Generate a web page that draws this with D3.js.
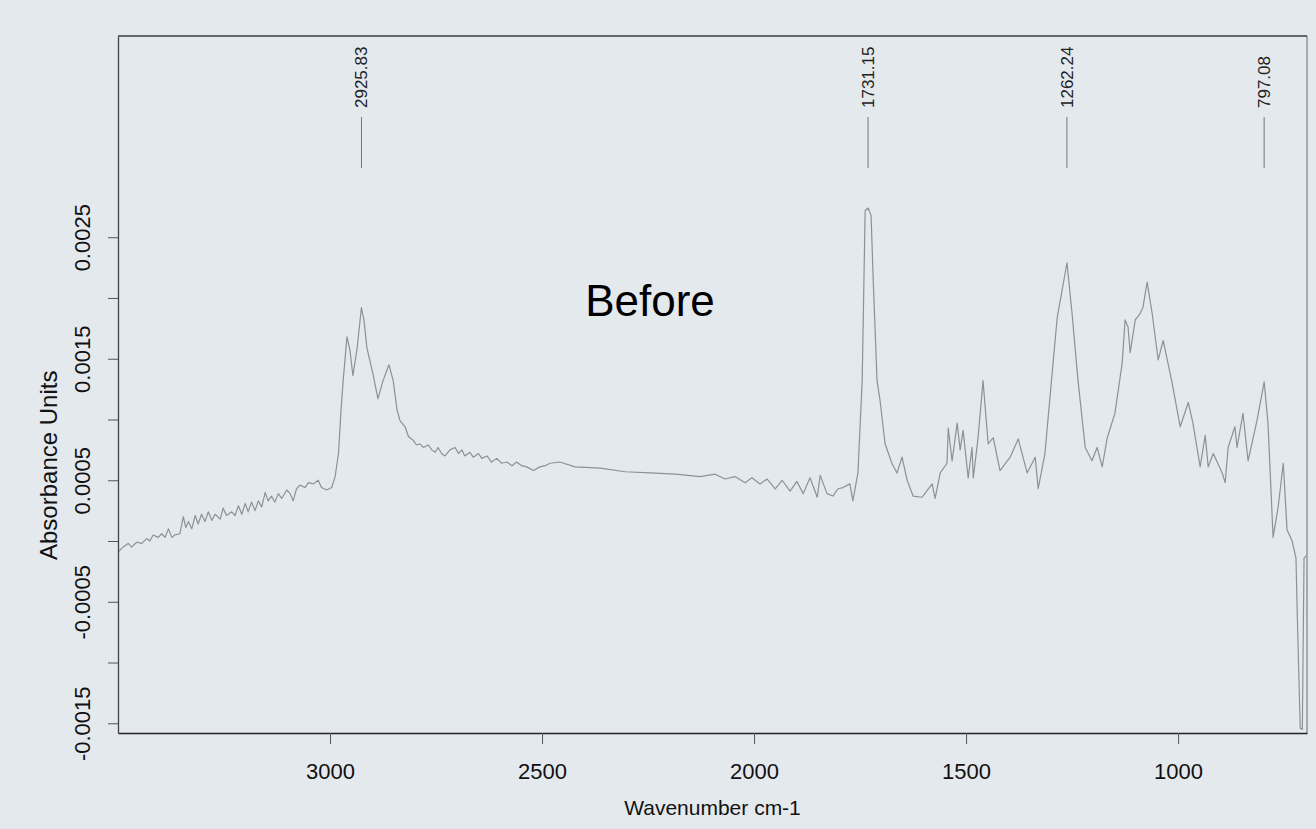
<!DOCTYPE html>
<html>
<head>
<meta charset="utf-8">
<script src="https://cdn.jsdelivr.net/npm/d3@7"></script>
<style>
  body { margin: 0; background: #e4e9ee; }
  svg { display: block; font-family: "Liberation Sans", Arial, sans-serif; }
</style>
</head>
<body>
<div id="chart"></div>
<script>
// spectrum, split into regions (wavenumber cm-1 / absorbance units)
const ohWn = [3500, 3488, 3476, 3468, 3456, 3444, 3432, 3425, 3417, 3405,
  3397, 3389, 3381, 3373, 3366, 3354, 3346, 3340, 3334, 3326,
  3318, 3311, 3303, 3295, 3287, 3279, 3271, 3259, 3252, 3244,
  3232, 3224, 3216, 3208, 3200, 3193, 3185, 3177, 3169, 3161,
  3153, 3146, 3138, 3130, 3122, 3114, 3102, 3094, 3087, 3079,
  3071, 3059, 3051, 3039, 3028, 3020, 3008, 2996, 2988, 2980];
const ohAbs = [-0.00009, -0.00005, -0.00002, -0.00005, -0.00001, -0.00002, 0.00002, 0.0, 0.00005, 0.00003,
  0.00006, 0.00003, 0.0001, 0.00003, 0.00005, 0.00006, 0.0002, 0.00011, 0.00016, 0.0001,
  0.00021, 0.00014, 0.00022, 0.00016, 0.00024, 0.00017, 0.00022, 0.00018, 0.00027, 0.00021,
  0.00024, 0.00021, 0.00029, 0.00022, 0.00031, 0.00024, 0.00032, 0.00025, 0.00033, 0.00028,
  0.0004, 0.00033, 0.00037, 0.00032, 0.00039, 0.00035, 0.00042, 0.00039, 0.00033, 0.00043,
  0.00046, 0.00044, 0.00048, 0.00047, 0.0005, 0.00044, 0.00042, 0.00044, 0.00053, 0.00072];

const chWn = [2974, 2969, 2960, 2953, 2946, 2936, 2926, 2920, 2913, 2899, 2887, 2875, 2861, 2851, 2842];
const chAbs = [0.00108, 0.00132, 0.00168, 0.00157, 0.00136, 0.00159, 0.00192, 0.00182, 0.00159, 0.00138,
  0.00117, 0.00132, 0.00145, 0.00132, 0.00108];

const tailWn = [2835, 2823, 2815, 2804, 2796, 2788, 2780, 2768, 2760, 2752,
  2745, 2737, 2729, 2717, 2705, 2697, 2689, 2682, 2670, 2662,
  2650, 2642, 2630, 2619, 2607, 2595, 2583, 2571, 2560, 2548,
  2536, 2520, 2505, 2493, 2481];
const tailAbs = [0.00099, 0.00094, 0.00086, 0.00083, 0.00079, 0.0008, 0.00077, 0.00079, 0.00075, 0.00073,
  0.00077, 0.00072, 0.0007, 0.00075, 0.00077, 0.00072, 0.00075, 0.0007, 0.00073, 0.00069,
  0.00072, 0.00068, 0.0007, 0.00065, 0.00068, 0.00064, 0.00065, 0.00062, 0.00065, 0.00062,
  0.00061, 0.00058, 0.00061, 0.00062, 0.00064];

const midWn = [2458, 2422, 2363, 2304, 2245, 2186, 2127, 2092, 2068, 2045,
  2021, 2005, 1986, 1969, 1950, 1934, 1915, 1899, 1884, 1868,
  1851, 1844, 1828, 1814, 1802, 1790, 1774, 1767, 1755];
const midAbs = [0.00065, 0.00061, 0.0006, 0.00057, 0.00056, 0.00055, 0.00053, 0.00055, 0.00051, 0.00053,
  0.00048, 0.00052, 0.00047, 0.00051, 0.00043, 0.0005, 0.00041, 0.00049, 0.00039, 0.00052,
  0.00036, 0.00054, 0.00039, 0.00037, 0.00043, 0.00044, 0.00047, 0.00033, 0.00056];

const fpWn = [1745, 1738, 1731, 1724, 1719, 1710, 1703, 1691, 1675, 1663, 1651, 1639, 1625, 1604, 1580,
  1573, 1561, 1545, 1542, 1533, 1521, 1514, 1507, 1495, 1486, 1483, 1472, 1460, 1448, 1436, 1420, 1396,
  1377, 1356, 1337, 1330, 1314, 1295, 1285, 1262, 1250, 1236, 1219, 1203, 1191, 1179, 1167, 1149, 1132,
  1125, 1118, 1113, 1101, 1090, 1083, 1073, 1061, 1047, 1035, 1014, 995, 976, 965, 948, 936, 929, 917,
  896, 889, 882, 866, 861, 847, 835, 814, 797, 788, 776, 764, 752, 743, 731, 722, 719, 712, 707, 703, 698];
const fpAbs = [0.00132, 0.00272, 0.00274, 0.00268, 0.00215, 0.00132, 0.00116, 0.0008, 0.00064, 0.00056,
  0.00069, 0.0005, 0.00037, 0.00036, 0.00047, 0.00035, 0.00056, 0.00064, 0.00093, 0.00066, 0.00097,
  0.00075, 0.00091, 0.00052, 0.00077, 0.00052, 0.00084, 0.00132, 0.0008, 0.00085, 0.00058, 0.00069,
  0.00084, 0.00056, 0.00069, 0.00043, 0.00072, 0.00146, 0.00184, 0.00229, 0.00187, 0.00132, 0.00077,
  0.00066, 0.00077, 0.00061, 0.00085, 0.00105, 0.00146, 0.00182, 0.00176, 0.00155, 0.00182, 0.00187,
  0.00192, 0.00213, 0.00187, 0.00149, 0.00165, 0.0013, 0.00094, 0.00114, 0.00097, 0.00061, 0.00087,
  0.00061, 0.00072, 0.00056, 0.00048, 0.00077, 0.00094, 0.00077, 0.00105, 0.00066, 0.00099, 0.00131,
  0.00097, 0.00003, 0.00028, 0.00064, 0.00009, 0.0, -0.00014, -0.0006, -0.00154, -0.00155, -0.00014, -0.00012];

const xTicks = [3000, 2500, 2000, 1500, 1000];
const yTicks = [-0.0015, -0.001, -0.0005, 0, 0.0005, 0.001, 0.0015, 0.002, 0.0025];
const yTickLabels = ["-0.0015", "", "-0.0005", "", "0.0005", "", "0.0015", "", "0.0025"];
const peakLabels = ["2925.83", "1731.15", "1262.24", "797.08"];

const wavenumber = ohWn.concat(chWn, tailWn, midWn, fpWn);
const absorbance = ohAbs.concat(chAbs, tailAbs, midAbs, fpAbs);
const spectrum = wavenumber.map((w, i) => ({ w: w, a: absorbance[i] }));

const width = 1316, height = 829;
const margin = { top: 36, right: 9, bottom: 96, left: 118 };
const innerW = width - margin.left - margin.right;
const innerH = height - margin.top - margin.bottom;

const x = d3.scaleLinear().domain([3500, 696]).range([0, innerW]);
const y = d3.scaleLinear().domain([-0.00158, 0.004156]).range([innerH, 0]);

const svg = d3.select("#chart").append("svg")
    .attr("width", width)
    .attr("height", height);

svg.append("rect").attr("width", width).attr("height", height).attr("fill", "#e4e9ee");

const g = svg.append("g").attr("transform", `translate(${margin.left},${margin.top})`);

// frame
g.append("line").attr("x1", innerW).attr("x2", innerW).attr("y1", 0).attr("y2", innerH)
    .attr("stroke", "#7c8085").attr("stroke-width", 1.2);
g.append("line").attr("x1", 0).attr("x2", innerW).attr("y1", 0).attr("y2", 0)
    .attr("stroke", "#3a3d40").attr("stroke-width", 1.6);

// spectrum line
g.append("path")
    .datum(spectrum)
    .attr("fill", "none")
    .attr("stroke", "#8d9196")
    .attr("stroke-width", 1.2)
    .attr("stroke-linejoin", "round")
    .attr("d", d3.line().x(d => x(d.w)).y(d => y(d.a)));

// x axis
const xAxis = g.append("g")
    .attr("transform", `translate(0,${innerH})`)
    .call(d3.axisBottom(x).tickValues(xTicks).tickSize(11).tickSizeOuter(0).tickPadding(19).tickFormat(d3.format("d")));
xAxis.select(".domain").attr("stroke", "#222").attr("stroke-width", 1.6);
xAxis.selectAll(".tick line").attr("stroke", "#555");
xAxis.selectAll("text").attr("fill", "#111").style("font-size", "22px");

// y axis
const yAxis = g.append("g")
    .call(d3.axisLeft(y).tickValues(yTicks).tickSize(10).tickSizeOuter(0).tickFormat((d, i) => yTickLabels[i]));
yAxis.select(".domain").attr("stroke", "#444").attr("stroke-width", 1.3);
yAxis.selectAll(".tick line").attr("stroke", "#555");
yAxis.selectAll("text")
    .attr("x", null).attr("dy", null)
    .attr("transform", "translate(-28,0) rotate(-90)")
    .style("text-anchor", "middle")
    .style("font-size", "22px")
    .attr("fill", "#111");

// axis titles
svg.append("text")
    .attr("x", margin.left + innerW / 2)
    .attr("y", 815)
    .attr("text-anchor", "middle")
    .style("font-size", "21px")
    .attr("fill", "#111")
    .text("Wavenumber cm-1");

svg.append("text")
    .attr("transform", "translate(57,560) rotate(-90)")
    .attr("text-anchor", "start")
    .style("font-size", "24px")
    .attr("fill", "#111")
    .text("Absorbance Units");

// peak markers
const peaks = g.selectAll(".peak")
    .data(peakLabels)
    .enter()
    .append("g")
    .attr("class", "peak")
    .attr("transform", d => `translate(${x(+d)},0)`);

peaks.append("line")
    .attr("y1", 81).attr("y2", 132)
    .attr("stroke", "#777").attr("stroke-width", 1);

peaks.append("text")
    .attr("transform", "translate(6,72) rotate(-90)")
    .attr("text-anchor", "start")
    .style("font-size", "17px")
    .attr("fill", "#222")
    .text(d => d);

// annotation
svg.append("text")
    .attr("x", 650)
    .attr("y", 316)
    .attr("text-anchor", "middle")
    .style("font-size", "44px")
    .attr("fill", "#000")
    .text("Before");
</script>
</body>
</html>
